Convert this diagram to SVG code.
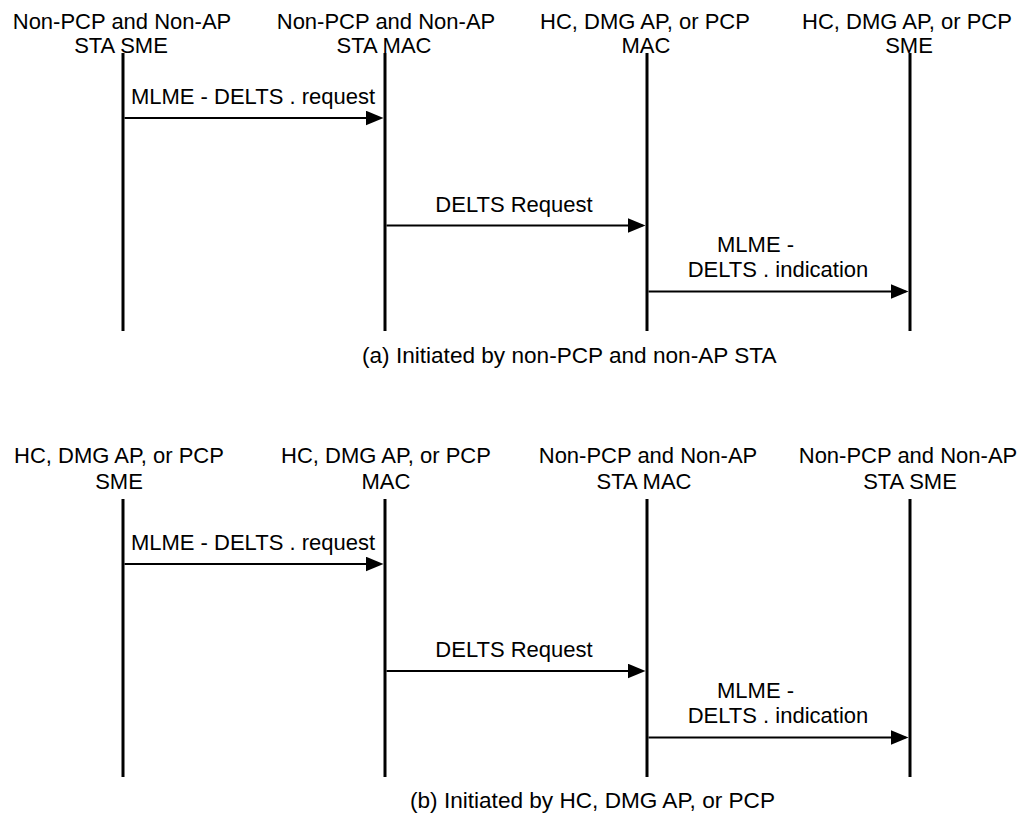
<svg xmlns="http://www.w3.org/2000/svg" width="1022" height="816" viewBox="0 0 1022 816">
  <style>
    text { font-family: "Liberation Sans", Arial, sans-serif; font-size: 22px; fill: #000; }
    .c { text-anchor: middle; }
    .cap { font-size: 22.6px; }
    .life { stroke: #000; stroke-width: 3; fill: none; }
    .msg { stroke: #000; stroke-width: 2; fill: none; marker-end: url(#ah); }
  </style>
  <defs>
    <marker id="ah" markerUnits="userSpaceOnUse" markerWidth="18" markerHeight="15" refX="15" refY="7.5" orient="auto" viewBox="0 0 18 15">
      <path d="M0,0 L18,7.5 L0,15 z" fill="#000"/>
    </marker>
  </defs>
  <rect width="1022" height="816" fill="#fff"/>

  <!-- (a) -->
  <g id="a-sta-sme">
    <text class="c" x="122" y="29">Non-PCP and Non-AP</text>
    <text class="c" x="121" y="53">STA SME</text>
    <line class="life" x1="123" y1="53" x2="123" y2="331"/>
  </g>
  <g id="a-sta-mac">
    <text class="c" x="386" y="29">Non-PCP and Non-AP</text>
    <text class="c" x="384" y="53">STA MAC</text>
    <line class="life" x1="385" y1="53" x2="385" y2="331"/>
  </g>
  <g id="a-ap-mac">
    <text class="c" x="645" y="29">HC, DMG AP, or PCP</text>
    <text class="c" x="646" y="53">MAC</text>
    <line class="life" x1="647" y1="53" x2="647" y2="331"/>
  </g>
  <g id="a-ap-sme">
    <text class="c" x="907" y="29">HC, DMG AP, or PCP</text>
    <text class="c" x="909" y="53">SME</text>
    <line class="life" x1="910" y1="53" x2="910" y2="331"/>
  </g>
  <g id="a-connectors">
    <line class="msg" x1="124.5" y1="118" x2="380.5" y2="118"/>
    <text class="c" x="253" y="104">MLME - DELTS . request</text>
    <line class="msg" x1="386.5" y1="225.5" x2="642.5" y2="225.5"/>
    <text class="c" x="514" y="212">DELTS Request</text>
    <line class="msg" x1="648.5" y1="291.5" x2="905.5" y2="291.5"/>
    <text x="717" y="252">MLME -</text>
    <text class="c" x="778" y="277">DELTS . indication</text>
  </g>
  <text id="caption-a" class="cap" x="362" y="363">(a) Initiated by non-PCP and non-AP STA</text>

  <!-- (b) -->
  <g id="b-ap-sme">
    <text class="c" x="119" y="463">HC, DMG AP, or PCP</text>
    <text class="c" x="119" y="489">SME</text>
    <line class="life" x1="123" y1="499" x2="123" y2="777"/>
  </g>
  <g id="b-ap-mac">
    <text class="c" x="386" y="463">HC, DMG AP, or PCP</text>
    <text class="c" x="386" y="489">MAC</text>
    <line class="life" x1="385" y1="499" x2="385" y2="777"/>
  </g>
  <g id="b-sta-mac">
    <text class="c" x="648" y="463">Non-PCP and Non-AP</text>
    <text class="c" x="644" y="489">STA MAC</text>
    <line class="life" x1="647" y1="499" x2="647" y2="777"/>
  </g>
  <g id="b-sta-sme">
    <text class="c" x="908" y="463">Non-PCP and Non-AP</text>
    <text class="c" x="910" y="489">STA SME</text>
    <line class="life" x1="910" y1="499" x2="910" y2="777"/>
  </g>
  <g id="b-connectors">
    <line class="msg" x1="124.5" y1="564" x2="380.5" y2="564"/>
    <text class="c" x="253" y="550">MLME - DELTS . request</text>
    <line class="msg" x1="386.5" y1="671" x2="642.5" y2="671"/>
    <text class="c" x="514" y="657">DELTS Request</text>
    <line class="msg" x1="648.5" y1="737.5" x2="905.5" y2="737.5"/>
    <text x="717" y="698">MLME -</text>
    <text class="c" x="778" y="723">DELTS . indication</text>
  </g>
  <text id="caption-b" class="cap" x="410" y="808">(b) Initiated by HC, DMG AP, or PCP</text>
</svg>
